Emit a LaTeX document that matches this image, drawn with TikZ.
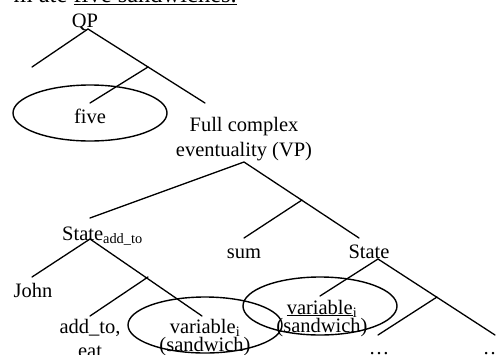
\documentclass[tikz,border=0pt]{standalone}
\usepackage{fontspec}
\setmainfont{Liberation Serif}
\usetikzlibrary{shapes.geometric}
\newcommand\twoline[3]{\vtop{\baselineskip=#1\lineskiplimit=-100pt\halign{\hfil##\hfil\cr#2\cr#3\cr}}}
\begin{document}
\begin{tikzpicture}[x=1pt,y=-1pt,
  lbl/.style={inner sep=0pt, anchor=base, font=\fontsize{20.5}{24.5}\selectfont},
  branch/.style={line width=1.3pt, line cap=round},
  oval/.style={draw, ellipse, line width=1.4pt, inner sep=0pt, minimum width=154pt, minimum height=56pt}]
\useasboundingbox (0,0) rectangle (497,354);
\clip (0,0) rectangle (497,354);
% cut-off sentence at the top
\node[inner sep=0pt, anchor=base east, font=\fontsize{24.5}{28}\selectfont] (sent) at (237,2) {m ate \underline{five sandwiches.}};

% QP
\node[lbl] (qp) at (85,27) {QP};
\coordinate (qpr) at (88,29);
\coordinate (qpl) at (32,67);
\coordinate (qpm) at (148,67);
\coordinate (qprr) at (205,103);
\coordinate (qpml) at (90,103);
\draw[branch] (qpl) -- (qpr) -- (qprr);
\draw[branch] (qpm) -- (qpml);
\node[oval] (ov1) at (90,113) {};
\node[lbl] (five) at (90,123) {five};

% VP
\node[lbl] (vp) at (244,131) {\twoline{25pt}{Full complex}{eventuality (VP)}};
\coordinate (vpr) at (244,162);
\coordinate (vpl) at (90,218);
\coordinate (vpm) at (302,200);
\coordinate (vprr) at (359,238);
\coordinate (vpml) at (244,238);
\draw[branch] (vpl) -- (vpr) -- (vprr);
\draw[branch] (vpm) -- (vpml);

\node[lbl] (sum) at (244,258) {sum};
\node[lbl] (st) at (369,258) {State};
\node[lbl, anchor=base west] (sta) at (62,240) {State\textsubscript{add\_to}};

% State_add_to subtree
\coordinate (sar) at (90,239);
\coordinate (sal) at (32,277);
\coordinate (sam) at (148,277);
\coordinate (sarr) at (202,316);
\coordinate (saml) at (90,316);
\draw[branch] (sal) -- (sar) -- (sarr);
\draw[branch] (sam) -- (saml);
\node[lbl] (john) at (33,297) {John};
\node[lbl] (addto) at (90,333) {\twoline{24pt}{add\_to,}{eat}};
\node[lbl] (var1) at (205,333) {\twoline{18pt}{variable\textsubscript{i}}{(sandwich)}};
\node[oval] (ov2) at (205,325) {};

% State subtree
\coordinate (sr) at (378,259);
\coordinate (sl) at (320,296);
\coordinate (sm) at (437,297);
\coordinate (srr) at (495,335);
\coordinate (sml) at (378,335);
\draw[branch] (sl) -- (sr) -- (srr);
\draw[branch] (sm) -- (sml);
\node[lbl] (var2) at (322,314) {\twoline{18pt}{\underline{variable}\textsubscript{i}}{(sandwich)}};
\node[oval, minimum height=58pt] (ov3) at (320,306) {};
\node[lbl] (dots1) at (379,354.5) {\ldots};
\node[lbl] (dots2) at (493,354.5) {\ldots};
\end{tikzpicture}
\end{document}
